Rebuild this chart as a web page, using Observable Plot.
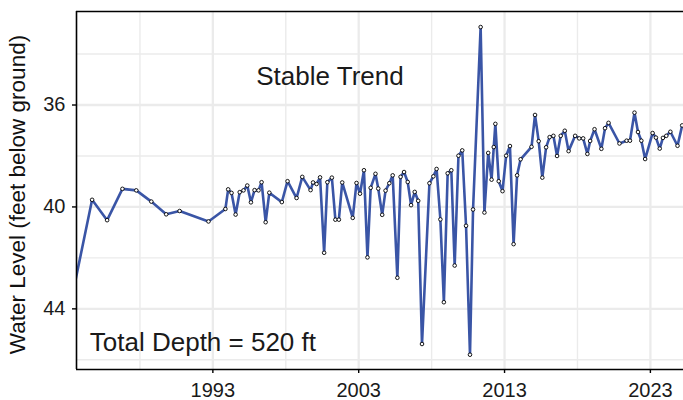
<!DOCTYPE html>
<html><head><meta charset="utf-8">
<script src="https://cdn.jsdelivr.net/npm/d3@7"></script>
<script src="https://cdn.jsdelivr.net/npm/@observablehq/plot@0.6"></script>
<style>
html,body{margin:0;padding:0;background:#fff;} svg{display:block}
g[aria-label="x-axis tick label"], g[aria-label="y-axis tick label"] { font-size: 20px !important; }
g[aria-label="x-axis tick label"] text, g[aria-label="y-axis tick label"] text { font-size: 20px !important; }
</style>
</head><body><div id="chart"></div>
<script>
const years = [1983.5, 1984.72, 1985.75, 1986.8, 1987.75, 1988.78, 1989.8, 1990.72, 1992.7, 1993.86,
  1994.05, 1994.28, 1994.56, 1994.84, 1995.1, 1995.36, 1995.61, 1995.86, 1996.13, 1996.34,
  1996.62, 1996.87, 1997.73, 1998.12, 1998.74, 1999.13, 1999.7, 1999.87, 2000.11, 2000.35,
  2000.63, 2000.85, 2001.16, 2001.4, 2001.64, 2001.87, 2002.59, 2002.85, 2003.09, 2003.36,
  2003.6, 2003.82, 2004.15, 2004.34, 2004.61, 2004.84, 2005.1, 2005.33, 2005.65, 2005.87,
  2006.11, 2006.36, 2006.59, 2006.84, 2007.08, 2007.34, 2007.85, 2008.12, 2008.34, 2008.6,
  2008.84, 2009.1, 2009.35, 2009.58, 2009.84, 2010.1, 2010.36, 2010.63, 2010.84, 2011.36,
  2011.62, 2011.88, 2012.11, 2012.26, 2012.37, 2012.6, 2012.86, 2013.11, 2013.37, 2013.62,
  2013.86, 2014.1, 2014.85, 2015.09, 2015.34, 2015.59, 2015.85, 2016.09, 2016.35, 2016.6,
  2016.85, 2017.13, 2017.39, 2017.84, 2018.12, 2018.39, 2018.68, 2018.87, 2019.17, 2019.64,
  2019.89, 2020.13, 2020.88, 2021.37, 2021.6, 2021.91, 2022.15, 2022.38, 2022.64, 2023.15,
  2023.38, 2023.64, 2023.86, 2024.09, 2024.37, 2024.86, 2025.18];
const levels = [43.1, 39.72, 40.52, 39.29, 39.35, 39.79, 40.29, 40.16, 40.57, 40.08,
  39.31, 39.45, 40.30, 39.42, 39.35, 39.16, 39.82, 39.34, 39.35, 39.03,
  40.6, 39.44, 39.81, 38.99, 39.65, 38.82, 39.34, 39.04, 39.1, 38.84,
  41.8, 39.03, 38.85, 40.5, 40.5, 39.04, 40.43, 39.06, 39.48, 38.56,
  41.98, 39.25, 38.7, 39.28, 40.31, 39.36, 39.07, 38.76, 42.78, 38.82,
  38.63, 39.02, 39.93, 39.41, 39.76, 45.38, 39.07, 38.8, 38.51, 40.49,
  43.74, 38.68, 38.56, 42.3, 37.99, 37.78, 40.74, 45.8, 40.1, 32.94,
  40.22, 37.88, 38.93, 37.65, 36.74, 38.99, 39.38, 37.99, 37.61, 41.46,
  38.76, 38.13, 37.64, 36.39, 37.42, 38.85, 37.66, 37.26, 37.21, 38.0,
  37.21, 37.01, 37.81, 37.21, 37.31, 37.31, 37.92, 37.41, 36.95, 37.72,
  36.91, 36.7, 37.51, 37.4, 37.4, 36.3, 37.06, 37.4, 38.12, 37.1,
  37.28, 37.71, 37.29, 37.21, 37.05, 37.6, 36.8];
const xMajorTicks = [1993, 2003, 2013, 2023];
const xMinorTicks = [1988, 1998, 2008, 2018];
const yMajorTicks = [36, 40, 44];
const yMinorTicks = [34, 38, 42, 46];
const xDomain = [1983.65, 2025.27];
const yDomain = [32.33, 46.38];
const yTitle = "Water Level (feet below ground)";
const trendLabel = ["Stable Trend"];
const depthLabel = ["Total Depth = 520 ft"];

const data = years.map((t, i) => ({year: t, level: levels[i]}));
const FONT = "'Liberation Sans', Arial, Helvetica, sans-serif";

const chart = Plot.plot({
  width: 683, height: 400,
  marginLeft: 76, marginRight: 0, marginTop: 11, marginBottom: 31,
  style: {fontFamily: FONT, background: "#fff", color: "#1a1a1a", overflow: "visible"},
  x: {domain: xDomain},
  y: {domain: yDomain, reverse: true},
  marks: [
    Plot.gridX(xMinorTicks, {stroke: "#ebebeb", strokeOpacity: 1, strokeWidth: 1.4}),
    Plot.gridY(yMinorTicks, {stroke: "#ebebeb", strokeOpacity: 1, strokeWidth: 1.4}),
    Plot.gridX(xMajorTicks, {stroke: "#ebebeb", strokeOpacity: 1, strokeWidth: 2.3}),
    Plot.gridY(yMajorTicks, {stroke: "#ebebeb", strokeOpacity: 1, strokeWidth: 2.3}),
    Plot.line(data, {x: "year", y: "level", stroke: "#3a55a6", strokeWidth: 2.6, clip: true}),
    Plot.dot(data, {x: "year", y: "level", r: 1.8, fill: "white", stroke: "black", strokeWidth: 0.9, clip: true}),
    Plot.ruleY([yDomain[0], yDomain[1]], {stroke: "black", strokeWidth: 1.6}),
    Plot.ruleX([xDomain[0]], {stroke: "black", strokeWidth: 1.6}),
    Plot.axisX(xMajorTicks, {tickSize: 4, tickPadding: 9, fontSize: 20, tickFormat: d => String(d), label: null, fill: "#1a1a1a", stroke: "black", strokeWidth: 1.4}),
    Plot.axisY(yMajorTicks, {tickSize: 4, tickPadding: 7, fontSize: 20, tickFormat: d => String(d), label: null, fill: "#1a1a1a", stroke: "black", strokeWidth: 1.4}),
    Plot.text([yTitle], {frameAnchor: "left", text: d => d, rotate: -90, dx: -58.5, dy: 4, fontSize: 22.5, fill: "#111", textAnchor: "middle", lineAnchor: "middle"}),
    Plot.text(trendLabel, {frameAnchor: "top-left", text: d => d, dx: 253.5, dy: 73.3, fontSize: 26, fill: "#1a1a1a", textAnchor: "middle", lineAnchor: "bottom"}),
    Plot.text(depthLabel, {frameAnchor: "bottom-left", text: d => d, dx: 13.3, dy: -18.3, fontSize: 26, fill: "#1a1a1a", textAnchor: "start", lineAnchor: "bottom"})
  ]
});
document.getElementById("chart").appendChild(chart);
</script>
</body></html>
